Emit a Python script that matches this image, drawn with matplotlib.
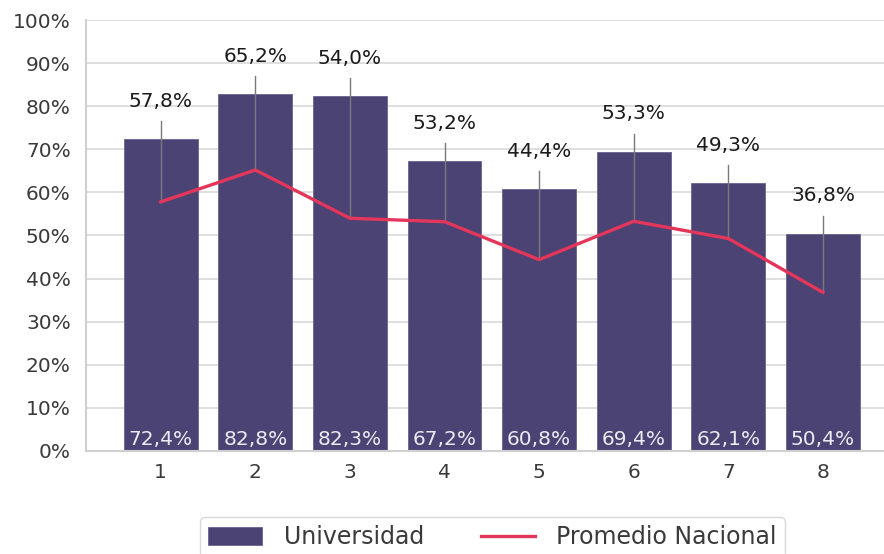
import numpy as np
import matplotlib.pyplot as plt

plt.rcParams['font.family'] = ['DejaVu Sans']

categorias = ['1', '2', '3', '4', '5', '6', '7', '8']
universidad = [72.4, 82.8, 82.3, 67.2, 60.8, 69.4, 62.1, 50.4]
promedio = [57.8, 65.2, 54.0, 53.2, 44.4, 53.3, 49.3, 36.8]

color_barra = '#4b4373'
color_linea = '#e4365a'
color_texto = '#3a3a3a'

fig = plt.figure(figsize=(8.84, 5.54), dpi=100)
ax = fig.add_axes([86/884, 103/554, 1 - 86/884, 431/554])

x = np.arange(1, len(categorias) + 1)
barras = ax.bar(x, universidad, width=0.78, color=color_barra, edgecolor='#6a6390',
                linewidth=0.6, label='Universidad', zorder=2)
linea, = ax.plot(x, promedio, color=color_linea, linewidth=2.4,
                 label='Promedio Nacional', zorder=4)

# etiquetas de la barra (abajo, en blanco)
for xi, v in zip(x, universidad):
    ax.text(xi, 0.5, f'{v:.1f}%'.replace('.', ','), ha='center', va='bottom',
            color='#ecebf2', fontsize=14.5, zorder=5)

# etiquetas del promedio, con linea guia
for xi, v, b in zip(x, promedio, universidad):
    ax.plot([xi, xi], [v, b + 4.2], color='#7a7a7a', linewidth=1, zorder=3)
    ax.text(xi, b + 8.8, f'{v:.1f}%'.replace('.', ','), ha='center',
            va='center', color='#1a1a1a', fontsize=14.5, zorder=5)

ax.set_xlim(0.21, 8.645)
ax.set_ylim(0, 100)
ax.set_yticks(np.arange(0, 101, 10))
ax.set_yticklabels([f'{t}%' for t in range(0, 101, 10)])
ax.set_xticks(x)
ax.set_xticklabels(categorias)
ax.tick_params(axis='both', length=0, labelsize=14.5, colors=color_texto)
ax.tick_params(axis='y', pad=11)
ax.tick_params(axis='x', pad=9)
ax.grid(axis='y', color='#d9d9d9', linewidth=1.2, zorder=0)
ax.set_axisbelow(True)
for s in ['top', 'right']:
    ax.spines[s].set_visible(False)
for s in ['left', 'bottom']:
    ax.spines[s].set_color('#d0d0d0')
    ax.spines[s].set_linewidth(1.5)

leg = fig.legend([barras, linea], ['Universidad', 'Promedio Nacional'],
                 loc='upper center', bbox_to_anchor=(0.557, 0.067), ncol=2,
                 fontsize=17, frameon=True, edgecolor='#d0d0d0',
                 handlelength=2.3, handleheight=0.8, handletextpad=0.9,
                 columnspacing=2.4, borderpad=0.35, borderaxespad=0,
                 fancybox=True)
for t in leg.get_texts():
    t.set_color(color_texto)

fig.savefig('out.png', dpi=100)
